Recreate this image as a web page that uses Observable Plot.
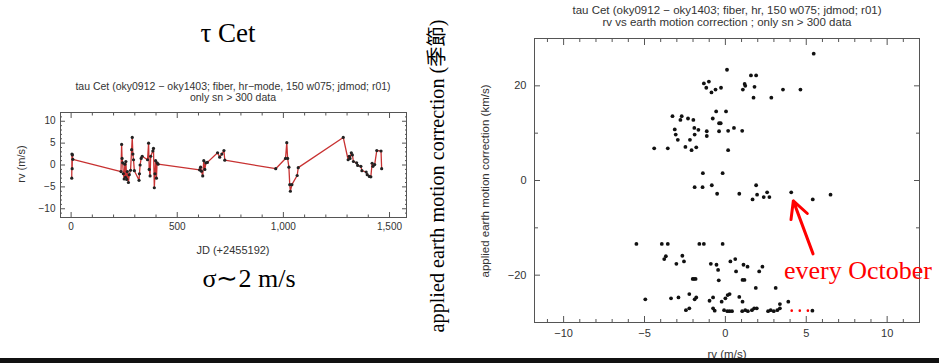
<!DOCTYPE html>
<html>
<head>
<meta charset="utf-8">
<script src="https://cdn.jsdelivr.net/npm/d3@7"></script>
<script src="https://cdn.jsdelivr.net/npm/@observablehq/plot@0.6"></script>
<style>
  html, body { margin: 0; padding: 0; background: #fff; }
  #page { position: relative; width: 939px; height: 363px; overflow: hidden; background: #fff; }
  .abs { position: absolute; white-space: nowrap; }
  .serif { font-family: "Liberation Serif", "Noto Sans CJK JP", serif; color: #000; }
  .idl { font-family: "Liberation Sans", sans-serif; color: #333; }
  #page svg { position: absolute; overflow: visible; }
</style>
</head>
<body>
<div id="page"></div>
<script>
// ---------- left chart: rv time series ----------
const tsJD = [3,4,5,6,8,
  235,238,240,243,246,250,253,256,258,262,265,270,274,280,285,288,291,294,298,320,322,325,330,335,360,365,368,372,375,385,388,392,395,398,402,405,410,
  605,610,614,620,625,630,635,642,
  690,700,710,720,724,
  964,
  1010,1016,1020,1026,1030,1033,1040,1065,1070,
  1282,
  1305,1310,1314,1320,1325,1330,1345,1350,1365,1370,1390,1395,1405,1412,1418,1422,1430,1440,1460,1463];
const tsRV = [-3.0,2.5,-0.85,2.3,1.3,
  -1.5,4.7,1.5,0.5,-2.0,-3.2,0.2,-2.8,0.8,-3.3,-1.5,-4.0,-2.2,-1.2,3.5,6.3,2.5,1.2,-1.3,-3.5,-2.0,0.0,1.5,2.0,1.2,5.0,-1.0,-2.5,2.0,3.2,3.8,-5.2,-2.0,1.0,-3.0,0.5,0.2,
  -1.1,-0.5,-1.4,-2.5,1.0,-1.0,0.5,0.6,
  2.8,1.8,2.5,3.3,1.1,
  -0.85,
  1.5,5.1,1.5,-0.5,-4.5,-6.0,-4.5,-2.4,-0.6,
  6.3,
  1.2,2.0,1.5,2.8,2.3,0.8,0.5,-0.1,-0.3,-1.3,-1.6,-2.2,-2.6,-2.7,0.4,-0.3,0.1,3.3,3.2,-0.85];
const leftXMajor = [0,500,1000,1500];
const leftXMinor = [100,200,300,400,600,700,800,900,1100,1200,1300,1400];
const leftYMajor = [-10,-5,0,5,10];
const leftYMinor = [-12,-11,-9,-8,-7,-6,-4,-3,-2,-1,1,2,3,4,6,7,8,9,11,12];

// ---------- right chart: rv vs earth motion correction ----------
const scRV = [5.46,0.1,1.58,1.9,-1.33,-1.02,-1.18,-0.86,-0.61,-0.27,1.19,1.23,1.08,1.8,1.74,2.84,3.56,4.64,
  -0.57,0.04,-3.27,-2.7,-2.78,-2.31,-1.98,-0.78,-0.39,-0.29,-3.13,-3.07,-2.94,-1.92,-1.67,-1.9,-2.19,-1.15,-1.15,-0.39,0.17,0.53,1.04,
  -4.4,-3.56,-2.47,-2.09,-1.8,0.17,
  -1.39,-0.17,-1.9,-1.41,-0.84,-0.51,0.86,1.68,1.9,1.96,2.37,2.58,2.72,4.07,5.4,6.5,
  -5.5,-3.93,-3.56,-1.61,-1.33,-0.17,
  -3.68,-3.78,-2.66,-2.56,-3.03,-0.9,-0.55,-0.45,0.31,0.61,1.12,1.37,0.66,2.29,2.09,
  -2.02,-1.94,-1.84,-0.41,1.06,1.18,1.88,3.11,
  -4.95,-3.36,-2.9,-2.23,-1.9,-1.8,-0.98,-0.76,-0.23,0,0.14,0.26,0.86,1.06,3.37,3.89,
  -2.44,-2.23,-0.76,-0.66,-0.08,0.12,0.26,0.41,1.04,1.23,1.39,1.64,1.78,1.94,2.64,2.8,2.99,3.21,3.37,5.38];
const scCorr = [26.8,23.4,22.2,22.2,20.5,20.9,19.6,18.6,19.2,19.6,20.4,20.0,19.2,19.8,17.5,17.5,19.2,19.2,
  14.6,14.6,13.6,13.6,12.8,13.1,12.8,13.1,12.1,12.1,10.8,9.7,8.6,11.1,10.7,9.7,8.6,10.4,9.4,10.4,10.5,11.1,10.5,
  6.8,6.8,7.1,6.4,7.0,6.4,
  1.55,1.55,-1.4,-1.4,-1.0,-2.8,-2.8,-4.0,-1.0,-3.0,-3.5,-2.5,-3.5,-2.5,-4.0,-3.0,
  -13.4,-13.4,-13.4,-13.4,-13.4,-13.4,
  -16.0,-16.6,-15.9,-17.1,-17.6,-17.6,-17.8,-18.9,-17.1,-16.6,-17.8,-18.2,-19.2,-18.2,-19.2,
  -20.8,-20.8,-20.8,-21.1,-21.0,-21.0,-22.7,-22.7,
  -25.1,-24.9,-24.7,-24.0,-25.1,-24.7,-25.4,-24.7,-25.6,-24.9,-24.2,-24.0,-24.6,-25.6,-26.1,-25.6,
  -27.4,-27.0,-27.0,-27.5,-27.4,-27.6,-27.6,-27.6,-27.6,-27.4,-27.6,-27.4,-27.0,-27.0,-27.6,-27.4,-27.6,-27.4,-27.0,-27.5];
const rightXMajor = [-10,-5,0,5,10];
const rightXMinor = [-11,-9,-8,-7,-6,-4,-3,-2,-1,1,2,3,4,6,7,8,9,11];
const rightYMajor = [-20,0,20];
const rightYMinor = [-30,-10,10,30];

// annotations (data units of the right chart)
const arrowAnno = [{x1: 5.42, y1: -15.5, x2: 4.2, y2: -4.3}];
const redDotsRV = [4.1, 4.6, 5.1];
const redDotsCorr = [-27.5, -27.5, -27.5];

// ---------- texts ----------
const leftTitle = ["tau Cet (oky0912 \u2212 oky1403; fiber, hr\u2212mode, 150 w075; jdmod; r01)", "only sn > 300 data"];
const rightTitle = ["tau Cet (oky0912 \u2212 oky1403; fiber, hr, 150 w075; jdmod; r01)", "rv vs earth motion correction ; only sn > 300 data"];

const page = document.getElementById("page");
function addText(html, cls, css) {
  const d = document.createElement("div");
  d.className = "abs " + cls;
  d.innerHTML = html;
  Object.assign(d.style, css);
  page.appendChild(d);
  return d;
}

const ts = tsJD.map((d, i) => ({jd: d, rv: tsRV[i]}));
const sc = scRV.map((d, i) => ({rv: d, corr: scCorr[i]}));
const redDots = redDotsRV.map((d, i) => ({rv: d, corr: redDotsCorr[i]}));

const frameColor = "#555";
const inkColor = "#333";

const left = Plot.plot({
  width: 420, height: 140,
  marginLeft: 60, marginRight: 14, marginTop: 12, marginBottom: 23,
  x: {domain: [-50, 1580]},
  y: {domain: [-12, 12]},
  style: {fontFamily: "Liberation Sans, sans-serif", fontSize: "10px", color: inkColor, background: "transparent"},
  marks: [
    Plot.axisX(leftXMinor, {anchor: "bottom", tickSize: -2.5, fill: "none", label: null, stroke: frameColor}),
    Plot.axisX(leftXMinor, {anchor: "top", tickSize: -2.5, fill: "none", label: null, stroke: frameColor}),
    Plot.axisX(leftXMajor, {anchor: "bottom", tickSize: -5, fill: "none", label: null, stroke: frameColor}),
    Plot.axisX(leftXMajor, {anchor: "top", tickSize: -5, fill: "none", label: null, stroke: frameColor}),
    Plot.axisY(leftYMinor, {anchor: "left", tickSize: -2, fill: "none", label: null, stroke: frameColor}),
    Plot.axisY(leftYMinor, {anchor: "right", tickSize: -2, fill: "none", label: null, stroke: frameColor}),
    Plot.axisY(leftYMajor, {anchor: "left", tickSize: -5, fill: "none", label: null, stroke: frameColor}),
    Plot.axisY(leftYMajor, {anchor: "right", tickSize: -5, fill: "none", label: null, stroke: frameColor}),
    Plot.axisX(leftXMajor, {anchor: "bottom", tickSize: 0, tickPadding: 5, label: null}),
    Plot.axisY(leftYMajor, {anchor: "left", tickSize: 0, tickPadding: 5, label: null}),
    Plot.frame({stroke: frameColor}),
    Plot.line(ts, {x: "jd", y: "rv", stroke: "#c83232", strokeWidth: 1.3}),
    Plot.dot(ts, {x: "jd", y: "rv", r: 1.6, fill: "#222"})
  ]
});
left.style.left = "0px";
left.style.top = "100px";
page.appendChild(left);

const right = Plot.plot({
  width: 449, height: 345,
  marginLeft: 44, marginRight: 20, marginTop: 38, marginBottom: 23,
  x: {domain: [-11.8, 12]},
  y: {domain: [-30, 30]},
  style: {fontFamily: "Liberation Sans, sans-serif", fontSize: "11px", color: inkColor, background: "transparent"},
  marks: [
    Plot.axisX(rightXMinor, {anchor: "bottom", tickSize: -3, fill: "none", label: null, stroke: frameColor}),
    Plot.axisX(rightXMinor, {anchor: "top", tickSize: -3, fill: "none", label: null, stroke: frameColor}),
    Plot.axisX(rightXMajor, {anchor: "bottom", tickSize: -6, fill: "none", label: null, stroke: frameColor}),
    Plot.axisX(rightXMajor, {anchor: "top", tickSize: -6, fill: "none", label: null, stroke: frameColor}),
    Plot.axisY(rightYMinor, {anchor: "left", tickSize: -4, fill: "none", label: null, stroke: frameColor}),
    Plot.axisY(rightYMinor, {anchor: "right", tickSize: -4, fill: "none", label: null, stroke: frameColor}),
    Plot.axisY(rightYMajor, {anchor: "left", tickSize: -6, fill: "none", label: null, stroke: frameColor}),
    Plot.axisY(rightYMajor, {anchor: "right", tickSize: -6, fill: "none", label: null, stroke: frameColor}),
    Plot.axisX(rightXMajor, {anchor: "bottom", tickSize: 0, tickPadding: 7, label: null}),
    Plot.axisY(rightYMajor, {anchor: "left", tickSize: 0, tickPadding: 8, label: null}),
    Plot.frame({stroke: frameColor}),
    Plot.dot(sc, {x: "rv", y: "corr", r: 1.9, fill: "#111"}),
    Plot.arrow(arrowAnno, {x1: "x1", y1: "y1", x2: "x2", y2: "y2", stroke: "#ff0000", strokeWidth: 3, headLength: 12, headAngle: 55}),
    Plot.dot(redDots, {x: "rv", y: "corr", r: 1.3, fill: "#ff0000"})
  ]
});
right.style.left = "490px";
right.style.top = "0px";
page.appendChild(right);

// ----- chart texts -----
addText(leftTitle.join("<br>"), "idl", {left: "233px", top: "81px", transform: "translateX(-50%)", fontSize: "10.5px", lineHeight: "11px", textAlign: "center"});
addText("rv (m/s)", "idl", {left: "21px", top: "164px", transform: "translate(-50%,-50%) rotate(-90deg)", fontSize: "11px"});
addText("JD (+2455192)", "idl", {left: "233px", top: "250px", transform: "translate(-50%,-50%)", fontSize: "11px"});

addText(rightTitle.join("<br>"), "idl", {left: "727px", top: "4px", transform: "translateX(-50%)", fontSize: "11.5px", lineHeight: "12px", textAlign: "center"});
addText("applied earth motion correction (km/s)", "idl", {left: "485px", top: "181px", transform: "translate(-50%,-50%) rotate(-90deg)", fontSize: "11.5px"});
addText("rv (m/s)", "idl", {left: "727px", top: "348px", transform: "translateX(-50%)", fontSize: "11.5px", lineHeight: "12px"});

// ----- slide texts -----
addText("\u03C4 Cet", "serif", {left: "228px", top: "20px", transform: "translateX(-50%)", fontSize: "27px", lineHeight: "27px"});
addText("\u03C3\u223C2 m/s", "serif", {left: "249px", top: "266px", transform: "translateX(-50%)", fontSize: "26px", lineHeight: "26px"});
addText("applied earth motion correction (\u5B63\u7BC0)", "serif", {left: "437px", top: "176px", transform: "translate(-50%,-50%) rotate(-90deg)", fontSize: "20.2px", lineHeight: "20px"});
addText("every October", "serif", {left: "784px", top: "258px", fontSize: "26px", lineHeight: "26px", color: "#ff0000"});

// bottom black band
addText("", "", {left: "0px", top: "358px", width: "939px", height: "5px", background: "#111"});
</script>
</body>
</html>
